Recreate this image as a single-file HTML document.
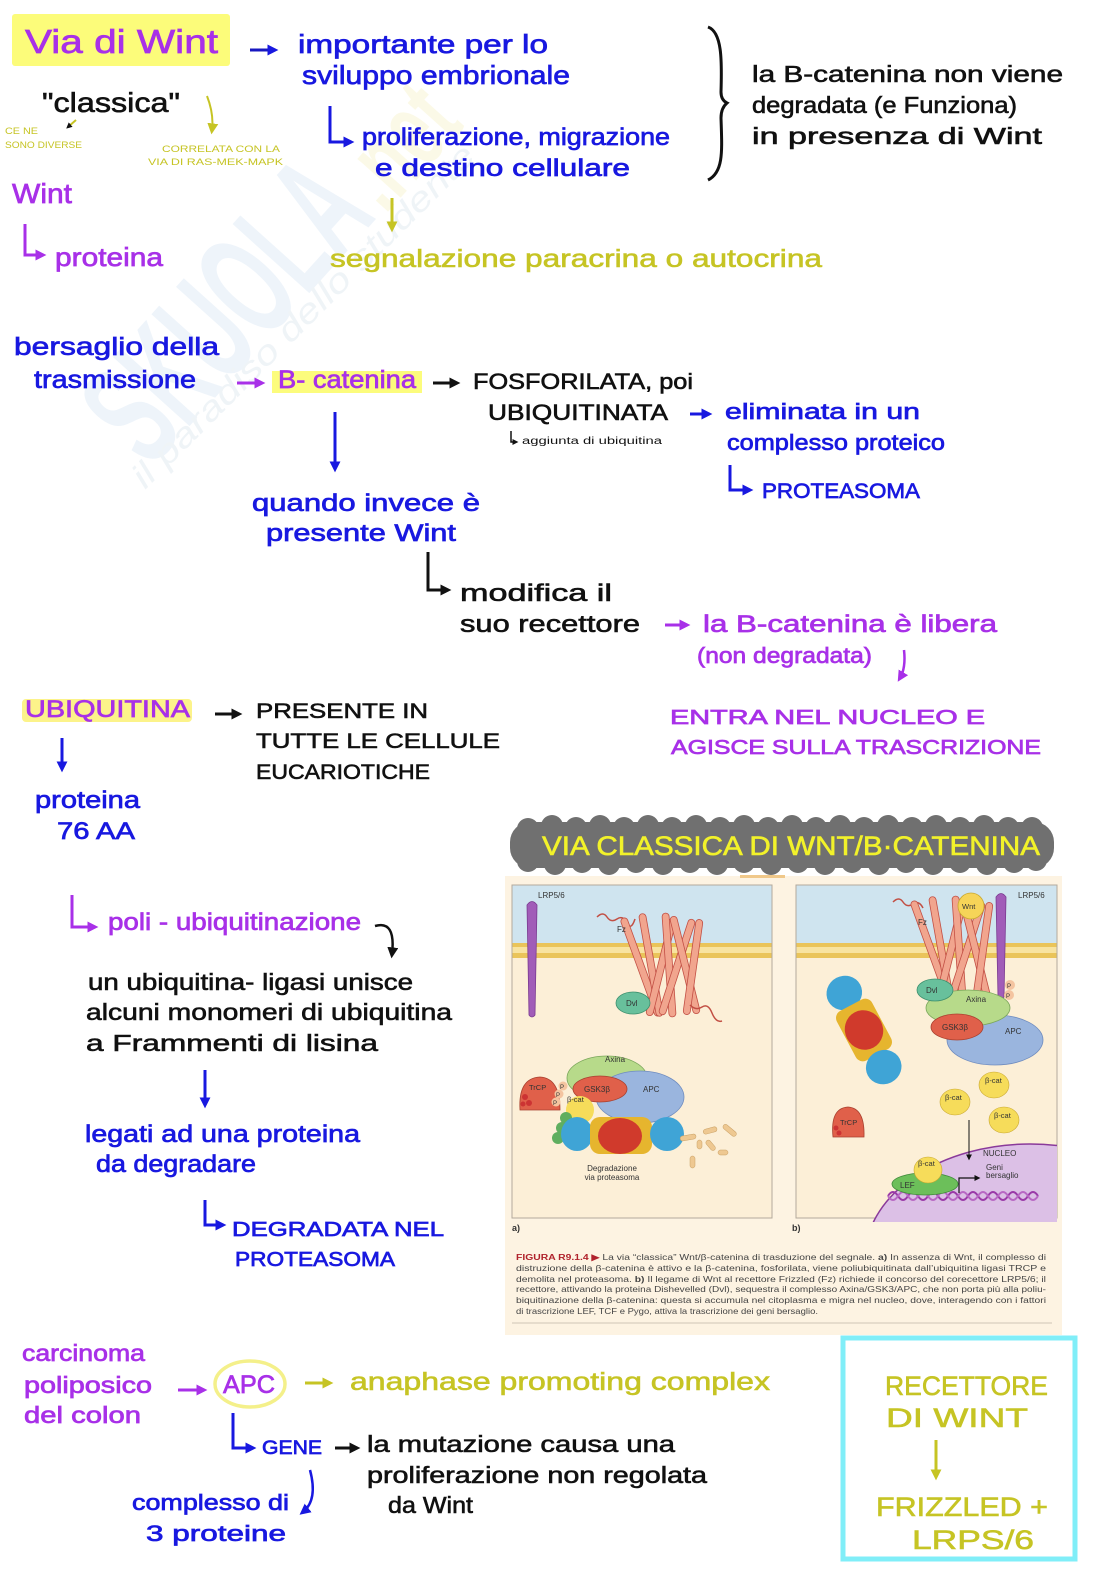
<!DOCTYPE html>
<html><head><meta charset="utf-8"><style>
html,body{margin:0;padding:0;background:#fff;}
svg{display:block;}
text{font-family:"Liberation Sans",sans-serif;}
.P{fill:#a830e8;stroke:#a830e8;stroke-width:0.7px;}
.B{fill:#1818e0;stroke:#1818e0;stroke-width:0.7px;}
.K{fill:#111;stroke:#111;stroke-width:0.6px;}
.Y{fill:#c6c424;stroke:#c6c424;stroke-width:0.6px;}
</style></head><body>
<svg width="1116" height="1578" viewBox="0 0 1116 1578" xmlns="http://www.w3.org/2000/svg">
<defs>
<marker id="aB" viewBox="0 0 10 10" refX="6" refY="5" markerWidth="11" markerHeight="11" markerUnits="userSpaceOnUse" orient="auto"><path d="M0,0 L10,5 L0,10 z" fill="#1818e0"/></marker>
<marker id="aP" viewBox="0 0 10 10" refX="6" refY="5" markerWidth="11" markerHeight="11" markerUnits="userSpaceOnUse" orient="auto"><path d="M0,0 L10,5 L0,10 z" fill="#a830e8"/></marker>
<marker id="aK" viewBox="0 0 10 10" refX="6" refY="5" markerWidth="11" markerHeight="11" markerUnits="userSpaceOnUse" orient="auto"><path d="M0,0 L10,5 L0,10 z" fill="#111"/></marker>
<marker id="aY" viewBox="0 0 10 10" refX="6" refY="5" markerWidth="11" markerHeight="11" markerUnits="userSpaceOnUse" orient="auto"><path d="M0,0 L10,5 L0,10 z" fill="#c6c424"/></marker>
<marker id="aS" viewBox="0 0 10 10" refX="6" refY="5" markerWidth="6" markerHeight="6" markerUnits="userSpaceOnUse" orient="auto"><path d="M0,0 L10,5 L0,10 z" fill="#111"/></marker>
<g id="fz" fill="#f1a58e" stroke="#c24f44" stroke-width="0.8">
 <rect x="-3.5" y="-52" width="7" height="104" rx="3.5" transform="translate(-24,2) rotate(-20)"/>
 <rect x="-3.5" y="-52" width="7" height="104" rx="3.5" transform="translate(-14,0) rotate(-10)"/>
 <rect x="-3.5" y="-50" width="7" height="100" rx="3.5" transform="translate(-4,2) rotate(14)"/>
 <rect x="-3.5" y="-52" width="7" height="104" rx="3.5" transform="translate(4,0) rotate(-4)"/>
 <rect x="-3.5" y="-50" width="7" height="100" rx="3.5" transform="translate(12,2) rotate(18)"/>
 <rect x="-3.5" y="-50" width="7" height="100" rx="3.5" transform="translate(20,0) rotate(-14)"/>
 <rect x="-3.5" y="-48" width="7" height="96" rx="3.5" transform="translate(28,2) rotate(8)"/>
</g>
<clipPath id="cpb"><rect x="796" y="885" width="261" height="337"/></clipPath>
</defs>

<!-- watermark -->
<g opacity="0.6">
<text x="0" y="0" font-size="150" font-weight="bold" fill="#e4eef8" textLength="340" lengthAdjust="spacingAndGlyphs" transform="translate(150,470) rotate(-48)">SKUOLA</text>
<text x="0" y="0" font-size="110" font-weight="bold" fill="#faf6d8" textLength="120" lengthAdjust="spacingAndGlyphs" transform="translate(385,215) rotate(-48)">.net</text>
<text x="0" y="0" font-size="34" font-style="italic" fill="#e6edf3" textLength="470" lengthAdjust="spacingAndGlyphs" transform="translate(145,490) rotate(-45)">il paradiso dello studente</text>
</g>

<!-- Title highlight -->
<rect x="12" y="14" width="218" height="52" rx="3" fill="#fcfc7a"/>
<text class="P" x="25" y="53" font-size="33" textLength="193" lengthAdjust="spacingAndGlyphs">Via  di  Wint</text>

<line x1="250" y1="50" x2="274" y2="50" stroke="#1818c0" stroke-width="3" marker-end="url(#aB)"/>
<text class="B" x="298" y="53" font-size="26" textLength="250" lengthAdjust="spacingAndGlyphs">importante per lo</text>
<text class="B" x="302" y="84" font-size="26" textLength="268" lengthAdjust="spacingAndGlyphs">sviluppo  embrionale</text>

<text class="K" x="42" y="112" font-size="28" textLength="138" lengthAdjust="spacingAndGlyphs">"classica"</text>
<line x1="76" y1="120" x2="68" y2="127" stroke="#c6c424" stroke-width="2" marker-end="url(#aS)"/>
<text x="5" y="134" font-size="9" fill="#c6c424" textLength="33" lengthAdjust="spacingAndGlyphs">CE NE</text>
<text x="5" y="148" font-size="9" fill="#c6c424" textLength="77" lengthAdjust="spacingAndGlyphs">SONO  DIVERSE</text>
<path d="M207,96 Q214,114 212,130" stroke="#c6c424" stroke-width="2" fill="none" marker-end="url(#aY)"/>
<text x="162" y="152" font-size="9.5" fill="#c6c424" textLength="118" lengthAdjust="spacingAndGlyphs">CORRELATA  CON  LA</text>
<text x="148" y="165" font-size="9.5" fill="#c6c424" textLength="135" lengthAdjust="spacingAndGlyphs">VIA  DI  RAS-MEK-MAPK</text>

<text class="P" x="12" y="203" font-size="28" textLength="60" lengthAdjust="spacingAndGlyphs">Wint</text>
<path d="M25,224 V255 H42" stroke="#a830e8" stroke-width="3" fill="none" marker-end="url(#aP)"/>
<text class="P" x="55" y="266" font-size="26" textLength="108" lengthAdjust="spacingAndGlyphs">proteina</text>

<path d="M330,106 V142 H350" stroke="#1818e0" stroke-width="3" fill="none" marker-end="url(#aB)"/>
<text class="B" x="362" y="145" font-size="24" textLength="308" lengthAdjust="spacingAndGlyphs">proliferazione, migrazione</text>
<text class="B" x="375" y="176" font-size="24" textLength="255" lengthAdjust="spacingAndGlyphs">e  destino  cellulare</text>
<line x1="392" y1="198" x2="392" y2="228" stroke="#c6c424" stroke-width="3" marker-end="url(#aY)"/>
<text class="Y" x="330" y="267" font-size="25" textLength="492" lengthAdjust="spacingAndGlyphs">segnalazione  paracrina  o  autocrina</text>

<path d="M708,27 C722,32 722,60 721,92 Q721,100 727,103 Q721,108 721,118 C722,150 724,172 708,180" stroke="#111" stroke-width="3" fill="none"/>
<text class="K" x="752" y="82" font-size="23" textLength="311" lengthAdjust="spacingAndGlyphs">la  B-catenina  non  viene</text>
<text class="K" x="752" y="113" font-size="23" textLength="265" lengthAdjust="spacingAndGlyphs">degradata (e Funziona)</text>
<text class="K" x="752" y="144" font-size="23" textLength="290" lengthAdjust="spacingAndGlyphs">in  presenza  di  Wint</text>

<text class="B" x="14" y="355" font-size="25" textLength="205" lengthAdjust="spacingAndGlyphs">bersaglio  della</text>
<text class="B" x="34" y="388" font-size="25" textLength="162" lengthAdjust="spacingAndGlyphs">trasmissione</text>
<line x1="237" y1="383" x2="261" y2="383" stroke="#a830e8" stroke-width="3" marker-end="url(#aP)"/>
<rect x="272" y="371" width="150" height="22" fill="#fcfc7c"/>
<text class="P" x="278" y="388" font-size="25" textLength="138" lengthAdjust="spacingAndGlyphs">B- catenina</text>
<line x1="433" y1="383" x2="456" y2="383" stroke="#111" stroke-width="3" marker-end="url(#aK)"/>
<text class="K" x="473" y="389" font-size="22" textLength="220" lengthAdjust="spacingAndGlyphs">FOSFORILATA, poi</text>
<text class="K" x="488" y="420" font-size="22" textLength="180" lengthAdjust="spacingAndGlyphs">UBIQUITINATA</text>
<path d="M511,431 V442 H516" stroke="#111" stroke-width="1.5" fill="none" marker-end="url(#aS)"/>
<text x="522" y="444" font-size="10" fill="#111" textLength="140" lengthAdjust="spacingAndGlyphs">aggiunta di ubiquitina</text>
<line x1="690" y1="414" x2="708" y2="414" stroke="#1818e0" stroke-width="3" marker-end="url(#aB)"/>
<text class="B" x="725" y="419" font-size="22" textLength="195" lengthAdjust="spacingAndGlyphs">eliminata  in  un</text>
<text class="B" x="727" y="450" font-size="22" textLength="218" lengthAdjust="spacingAndGlyphs">complesso  proteico</text>
<path d="M730,465 V490 H749" stroke="#1818e0" stroke-width="3" fill="none" marker-end="url(#aB)"/>
<text class="B" x="762" y="498" font-size="21" textLength="158" lengthAdjust="spacingAndGlyphs">PROTEASOMA</text>

<line x1="335" y1="412" x2="335" y2="468" stroke="#1818e0" stroke-width="3" marker-end="url(#aB)"/>
<text class="B" x="252" y="511" font-size="24" textLength="228" lengthAdjust="spacingAndGlyphs">quando  invece  è</text>
<text class="B" x="266" y="541" font-size="24" textLength="190" lengthAdjust="spacingAndGlyphs">presente  Wint</text>
<path d="M428,552 V590 H447" stroke="#111" stroke-width="3" fill="none" marker-end="url(#aK)"/>
<text class="K" x="460" y="601" font-size="24" textLength="152" lengthAdjust="spacingAndGlyphs">modifica  il</text>
<text class="K" x="460" y="632" font-size="24" textLength="180" lengthAdjust="spacingAndGlyphs">suo  recettore</text>
<line x1="665" y1="625" x2="686" y2="625" stroke="#a830e8" stroke-width="3" marker-end="url(#aP)"/>
<text class="P" x="703" y="632" font-size="24" textLength="294" lengthAdjust="spacingAndGlyphs">la B-catenina  è  libera</text>
<text class="P" x="697" y="663" font-size="22" textLength="175" lengthAdjust="spacingAndGlyphs">(non degradata)</text>
<path d="M904,650 Q906,668 900,678" stroke="#a830e8" stroke-width="2.5" fill="none" marker-end="url(#aP)"/>
<text class="P" x="670" y="724" font-size="20" textLength="315" lengthAdjust="spacingAndGlyphs">ENTRA NEL  NUCLEO   E</text>
<text class="P" x="671" y="754" font-size="20" textLength="370" lengthAdjust="spacingAndGlyphs">AGISCE  SULLA  TRASCRIZIONE</text>

<rect x="22" y="699" width="170" height="23" rx="4" fill="#fcf38a"/>
<text class="P" x="25" y="717" font-size="24" textLength="165" lengthAdjust="spacingAndGlyphs">UBIQUITINA</text>
<line x1="215" y1="714" x2="238" y2="714" stroke="#111" stroke-width="3" marker-end="url(#aK)"/>
<text class="K" x="256" y="718" font-size="21" textLength="172" lengthAdjust="spacingAndGlyphs">PRESENTE   IN</text>
<text class="K" x="256" y="748" font-size="21" textLength="244" lengthAdjust="spacingAndGlyphs">TUTTE  LE  CELLULE</text>
<text class="K" x="256" y="779" font-size="21" textLength="174" lengthAdjust="spacingAndGlyphs">EUCARIOTICHE</text>
<line x1="62" y1="738" x2="62" y2="768" stroke="#1818e0" stroke-width="3" marker-end="url(#aB)"/>
<text class="B" x="35" y="808" font-size="24" textLength="105" lengthAdjust="spacingAndGlyphs">proteina</text>
<text class="B" x="57" y="839" font-size="24" textLength="78" lengthAdjust="spacingAndGlyphs">76  AA</text>

<path d="M72,895 V927 H94" stroke="#a830e8" stroke-width="3" fill="none" marker-end="url(#aP)"/>
<text class="P" x="108" y="930" font-size="24" textLength="253" lengthAdjust="spacingAndGlyphs">poli - ubiquitinazione</text>
<path d="M375,926 Q396,920 392,954" stroke="#111" stroke-width="2.5" fill="none" marker-end="url(#aK)"/>
<text class="K" x="88" y="990" font-size="23" textLength="325" lengthAdjust="spacingAndGlyphs">un  ubiquitina- ligasi  unisce</text>
<text class="K" x="86" y="1020" font-size="23" textLength="366" lengthAdjust="spacingAndGlyphs">alcuni  monomeri  di  ubiquitina</text>
<text class="K" x="86" y="1051" font-size="23" textLength="292" lengthAdjust="spacingAndGlyphs">a  Frammenti  di  lisina</text>
<line x1="205" y1="1070" x2="205" y2="1104" stroke="#1818e0" stroke-width="3" marker-end="url(#aB)"/>
<text class="B" x="85" y="1142" font-size="24" textLength="275" lengthAdjust="spacingAndGlyphs">legati ad una  proteina</text>
<text class="B" x="96" y="1172" font-size="24" textLength="160" lengthAdjust="spacingAndGlyphs">da  degradare</text>
<path d="M205,1200 V1225 H222" stroke="#1818e0" stroke-width="3" fill="none" marker-end="url(#aB)"/>
<text class="B" x="232" y="1236" font-size="20" textLength="212" lengthAdjust="spacingAndGlyphs">DEGRADATA  NEL</text>
<text class="B" x="235" y="1266" font-size="20" textLength="160" lengthAdjust="spacingAndGlyphs">PROTEASOMA</text>

<!-- Cloud title -->
<g fill="#707070">
<rect x="510" y="822" width="544" height="46" rx="20"/>
<circle cx="528" cy="829" r="11"/><circle cx="552" cy="826" r="11"/><circle cx="576" cy="828" r="11"/><circle cx="600" cy="826" r="11"/><circle cx="624" cy="828" r="11"/><circle cx="648" cy="826" r="11"/><circle cx="672" cy="828" r="11"/><circle cx="696" cy="826" r="11"/><circle cx="720" cy="828" r="11"/><circle cx="744" cy="826" r="11"/><circle cx="768" cy="828" r="11"/><circle cx="792" cy="826" r="11"/><circle cx="816" cy="828" r="11"/><circle cx="840" cy="826" r="11"/><circle cx="864" cy="828" r="11"/><circle cx="888" cy="826" r="11"/><circle cx="912" cy="828" r="11"/><circle cx="936" cy="826" r="11"/><circle cx="960" cy="828" r="11"/><circle cx="984" cy="826" r="11"/><circle cx="1008" cy="828" r="11"/><circle cx="1032" cy="828" r="11"/>
<circle cx="528" cy="861" r="11"/><circle cx="555" cy="864" r="11"/><circle cx="582" cy="862" r="11"/><circle cx="609" cy="864" r="11"/><circle cx="636" cy="862" r="11"/><circle cx="663" cy="864" r="11"/><circle cx="690" cy="862" r="11"/><circle cx="717" cy="864" r="11"/><circle cx="744" cy="862" r="11"/><circle cx="771" cy="864" r="11"/><circle cx="798" cy="862" r="11"/><circle cx="825" cy="864" r="11"/><circle cx="852" cy="862" r="11"/><circle cx="879" cy="864" r="11"/><circle cx="906" cy="862" r="11"/><circle cx="933" cy="864" r="11"/><circle cx="960" cy="862" r="11"/><circle cx="987" cy="864" r="11"/><circle cx="1014" cy="862" r="11"/><circle cx="1036" cy="860" r="11"/>
</g>
<text x="542" y="855" font-size="27" fill="#f2f22a" stroke="#f2f22a" stroke-width="0.6" textLength="498" lengthAdjust="spacingAndGlyphs">VIA  CLASSICA  DI  WNT/B·CATENINA</text>

<!-- Figure -->
<rect x="505" y="876" width="557" height="459" fill="#fdf3e2"/>
<rect x="740" y="875" width="45" height="3" fill="#f0c88a"/>
<!-- panel a -->
<rect x="512" y="885" width="260" height="333" fill="#fcefd7" stroke="#b3aa9c" stroke-width="1"/>
<rect x="512.5" y="885.5" width="259" height="58" fill="#cfe4ef"/>
<rect x="512.5" y="943" width="259" height="15" fill="#eac45a"/>
<rect x="512.5" y="947" width="259" height="6" fill="#f8e3a0"/>
<path d="M527,905 Q532,898 537,905 L535,1015 Q532,1019 529,1015 Z" fill="#a15cb8" stroke="#7a3a90" stroke-width="0.8"/>
<text x="538" y="898" font-size="8" fill="#333">LRP5/6</text>
<path d="M597,917 q6,-6 10,0 t10,2 t10,4 t8,-4" stroke="#c24f44" stroke-width="1.5" fill="none"/>
<use href="#fz" transform="translate(665,965)"/>
<path d="M690,1005 q6,6 12,2 t10,6 t10,8" stroke="#c24f44" stroke-width="1.5" fill="none"/>
<text x="617" y="932" font-size="8" fill="#333">Fz</text>
<ellipse cx="633" cy="1003" rx="17" ry="11" fill="#68c09c" stroke="#3d8f6d" stroke-width="0.8"/>
<text x="626" y="1006" font-size="8" fill="#333">Dvl</text>
<!-- complex a -->
<ellipse cx="607" cy="1078" rx="40" ry="22" fill="#b7da8a" stroke="#7aa65a" stroke-width="0.8"/>
<text x="605" y="1062" font-size="8" fill="#333">Axina</text>
<ellipse cx="640" cy="1097" rx="44" ry="26" fill="#9ab5de" stroke="#6f8cbf" stroke-width="0.8"/>
<text x="643" y="1092" font-size="8" fill="#333">APC</text>
<ellipse cx="600" cy="1089" rx="27" ry="13" fill="#e0604a" stroke="#a8402f" stroke-width="0.8"/>
<text x="584" y="1092" font-size="8" fill="#333">GSK3β</text>
<path d="M520,1110 Q518,1078 540,1077 Q560,1078 560,1110 Z" fill="#e0604a" stroke="#a8402f" stroke-width="0.8"/>
<text x="529" y="1090" font-size="7.5" fill="#333">TrCP</text>
<circle cx="525" cy="1097" r="3" fill="#c33"/><circle cx="529" cy="1103" r="3" fill="#c33"/><circle cx="523" cy="1104" r="2.5" fill="#c33"/>
<ellipse cx="580" cy="1110" rx="14" ry="14" fill="#f6dc5a"/>
<text x="567" y="1102" font-size="7.5" fill="#333">β-cat</text>
<circle cx="563" cy="1086" r="4.5" fill="#f4c4a0"/><circle cx="559" cy="1094" r="4.5" fill="#f4c4a0"/><circle cx="556" cy="1102" r="4.5" fill="#f4c4a0"/>
<text x="560" y="1089" font-size="6" fill="#333">P</text><text x="556" y="1097" font-size="6" fill="#333">P</text><text x="553" y="1105" font-size="6" fill="#333">P</text>
<circle cx="566" cy="1118" r="6" fill="#5fae5f"/><circle cx="562" cy="1128" r="6" fill="#5fae5f"/><circle cx="558" cy="1138" r="6" fill="#5fae5f"/>
<ellipse cx="577" cy="1134" rx="16" ry="17" fill="#3fa4d6"/>
<rect x="590" y="1117" width="62" height="37" rx="10" fill="#e6b52e"/>
<ellipse cx="620" cy="1136" rx="22" ry="18" fill="#d03a2c"/>
<ellipse cx="667" cy="1134" rx="17" ry="17" fill="#3fa4d6"/>
<g fill="#eec891" stroke="#c9a065" stroke-width="0.5">
<rect x="680" y="1135" width="16" height="5" rx="2.5" transform="rotate(-10 688 1137)"/>
<rect x="703" y="1128" width="14" height="5" rx="2.5" transform="rotate(-15 710 1130)"/>
<rect x="722" y="1128" width="16" height="5" rx="2.5" transform="rotate(40 730 1130)"/>
<rect x="705" y="1143" width="12" height="5" rx="2.5" transform="rotate(50 711 1145)"/>
<rect x="718" y="1150" width="10" height="5" rx="2.5"/>
<rect x="690" y="1156" width="5" height="12" rx="2.5"/>
<rect x="697" y="1140" width="5" height="9" rx="2.5"/>
</g>
<text x="612" y="1171" font-size="8" fill="#333" text-anchor="middle">Degradazione</text>
<text x="612" y="1180" font-size="8" fill="#333" text-anchor="middle">via proteasoma</text>
<text x="512" y="1231" font-size="9" font-weight="bold" fill="#333">a)</text>

<!-- panel b -->
<rect x="796" y="885" width="261" height="333" fill="#fcefd7" stroke="#b3aa9c" stroke-width="1"/>
<rect x="796.5" y="885.5" width="260" height="58" fill="#cfe4ef"/>
<rect x="796.5" y="943" width="260" height="15" fill="#eac45a"/>
<rect x="796.5" y="947" width="260" height="6" fill="#f8e3a0"/>
<g clip-path="url(#cpb)">
<ellipse cx="1030" cy="1258" rx="165" ry="114" fill="#dcc0e6" stroke="#8a3a9a" stroke-width="1.5"/>
</g>
<path d="M888,1196 q5,-8 10,0 t10,0 t10,0 t10,0 t10,0 t10,0 t10,0 t10,0 t10,0 t10,0 t10,0 t10,0 t10,0 t10,0 t10,0" stroke="#9a3aa8" stroke-width="2" fill="none"/>
<path d="M888,1196 q5,8 10,0 t10,0 t10,0 t10,0 t10,0 t10,0 t10,0 t10,0 t10,0 t10,0 t10,0 t10,0 t10,0 t10,0 t10,0" stroke="#b868c4" stroke-width="2" fill="none"/>
<ellipse cx="925" cy="1184" rx="33" ry="11" fill="#6cbf5a" stroke="#3f8a3a" stroke-width="0.8"/>
<text x="900" y="1188" font-size="8" fill="#333">LEF</text>
<ellipse cx="928" cy="1170" rx="14" ry="13" fill="#f6dc5a" stroke="#c9a830" stroke-width="0.6"/>
<text x="918" y="1166" font-size="7.5" fill="#333">β-cat</text>
<path d="M959,1193 V1178 H978" stroke="#111" stroke-width="1.2" fill="none" marker-end="url(#aS)"/>
<text x="986" y="1170" font-size="8" fill="#333">Geni</text>
<text x="986" y="1178" font-size="8" fill="#333">bersaglio</text>
<text x="983" y="1156" font-size="8" fill="#333">NUCLEO</text>
<line x1="969" y1="1120" x2="969" y2="1158" stroke="#111" stroke-width="1" marker-end="url(#aS)"/>
<path d="M996,897 Q1001,890 1006,897 L1004,997 Q1001,1001 998,997 Z" fill="#a15cb8" stroke="#7a3a90" stroke-width="0.8"/>
<text x="1018" y="898" font-size="8" fill="#333">LRP5/6</text>
<path d="M893,902 q6,-6 10,0 t10,2 t10,4" stroke="#c24f44" stroke-width="1.5" fill="none"/>
<use href="#fz" transform="translate(955,948)"/>
<circle cx="971" cy="906" r="13" fill="#f6d458" stroke="#c9a830" stroke-width="0.8"/>
<text x="962" y="909" font-size="7.5" fill="#333">Wnt</text>
<text x="918" y="925" font-size="8" fill="#333">Fz</text>
<circle cx="1010" cy="985" r="5" fill="#f4c4a0"/><circle cx="1009" cy="995" r="5" fill="#f4c4a0"/>
<text x="1007" y="988" font-size="6" fill="#333">P</text><text x="1006" y="998" font-size="6" fill="#333">P</text>
<ellipse cx="995" cy="1040" rx="48" ry="25" fill="#9ab5de" stroke="#6f8cbf" stroke-width="0.8"/>
<text x="1005" y="1034" font-size="8" fill="#333">APC</text>
<ellipse cx="968" cy="1008" rx="42" ry="18" fill="#b7da8a" stroke="#7aa65a" stroke-width="0.8"/>
<text x="966" y="1002" font-size="8" fill="#333">Axina</text>
<ellipse cx="935" cy="990" rx="18" ry="11" fill="#68c09c" stroke="#3d8f6d" stroke-width="0.8"/>
<text x="926" y="993" font-size="8" fill="#333">Dvl</text>
<ellipse cx="957" cy="1027" rx="26" ry="13" fill="#e0604a" stroke="#a8402f" stroke-width="0.8"/>
<text x="942" y="1030" font-size="8" fill="#333">GSK3β</text>
<g transform="translate(864,1030) rotate(62)">
<ellipse cx="-42" cy="0" rx="17" ry="18" fill="#3fa4d6"/>
<rect x="-28" y="-20" width="56" height="40" rx="8" fill="#e6b52e"/>
<ellipse cx="0" cy="0" rx="20" ry="19" fill="#d03a2c"/>
<ellipse cx="42" cy="0" rx="17" ry="18" fill="#3fa4d6"/>
</g>
<path d="M833,1137 Q830,1108 848,1107 Q865,1108 864,1137 Z" fill="#e0604a" stroke="#a8402f" stroke-width="0.8"/>
<text x="840" y="1125" font-size="7.5" fill="#333">TrCP</text>
<circle cx="836" cy="1128" r="2.5" fill="#c33"/><circle cx="839" cy="1133" r="2.5" fill="#c33"/>
<g fill="#f6dc5a" stroke="#c9a830" stroke-width="0.6">
<ellipse cx="994" cy="1085" rx="15" ry="13"/>
<ellipse cx="955" cy="1102" rx="15" ry="13"/>
<ellipse cx="1004" cy="1120" rx="15" ry="13"/>
</g>
<text x="985" y="1083" font-size="7.5" fill="#333">β-cat</text>
<text x="945" y="1100" font-size="7.5" fill="#333">β-cat</text>
<text x="994" y="1118" font-size="7.5" fill="#333">β-cat</text>
<text x="792" y="1231" font-size="9" font-weight="bold" fill="#333">b)</text>

<!-- caption -->
<g font-size="8.6" fill="#444">
<text x="516" y="1260" textLength="530" lengthAdjust="spacingAndGlyphs"><tspan fill="#b0222c" font-weight="bold">FIGURA R9.1.4 ▶</tspan> La via “classica” Wnt/β-catenina di trasduzione del segnale. <tspan font-weight="bold">a)</tspan> In assenza di Wnt, il complesso di</text>
<text x="516" y="1271" textLength="530" lengthAdjust="spacingAndGlyphs">distruzione della β-catenina è attivo e la β-catenina, fosforilata, viene poliubiquitinata dall’ubiquitina ligasi TRCP e</text>
<text x="516" y="1282" textLength="530" lengthAdjust="spacingAndGlyphs">demolita nel proteasoma. <tspan font-weight="bold">b)</tspan> Il legame di Wnt al recettore Frizzled (Fz) richiede il concorso del corecettore LRP5/6; il</text>
<text x="516" y="1292" textLength="530" lengthAdjust="spacingAndGlyphs">recettore, attivando la proteina Dishevelled (Dvl), sequestra il complesso Axina/GSK3/APC, che non porta più alla poliu-</text>
<text x="516" y="1303" textLength="530" lengthAdjust="spacingAndGlyphs">biquitinazione della β-catenina: questa si accumula nel citoplasma e migra nel nucleo, dove, interagendo con i fattori</text>
<text x="516" y="1314" textLength="302" lengthAdjust="spacingAndGlyphs">di trascrizione LEF, TCF e Pygo, attiva la trascrizione dei geni bersaglio.</text>
</g>
<line x1="512" y1="1323" x2="1052" y2="1323" stroke="#d8cfc0" stroke-width="1.2"/>

<!-- bottom section -->
<text class="P" x="22" y="1361" font-size="23" textLength="123" lengthAdjust="spacingAndGlyphs">carcinoma</text>
<text class="P" x="24" y="1393" font-size="23" textLength="128" lengthAdjust="spacingAndGlyphs">poliposico</text>
<text class="P" x="24" y="1423" font-size="23" textLength="117" lengthAdjust="spacingAndGlyphs">del  colon</text>
<line x1="178" y1="1390" x2="203" y2="1390" stroke="#a830e8" stroke-width="3" marker-end="url(#aP)"/>
<ellipse cx="250" cy="1384" rx="35" ry="23" fill="none" stroke="#f4f08a" stroke-width="3.5"/>
<text class="P" x="223" y="1393" font-size="25" textLength="52" lengthAdjust="spacingAndGlyphs">APC</text>
<line x1="305" y1="1383" x2="329" y2="1383" stroke="#c6c424" stroke-width="3" marker-end="url(#aY)"/>
<text class="Y" x="350" y="1390" font-size="25" textLength="420" lengthAdjust="spacingAndGlyphs">anaphase  promoting  complex</text>
<path d="M233,1413 V1448 H252" stroke="#1818e0" stroke-width="3" fill="none" marker-end="url(#aB)"/>
<text class="B" x="262" y="1454" font-size="19" textLength="60" lengthAdjust="spacingAndGlyphs">GENE</text>
<line x1="335" y1="1448" x2="356" y2="1448" stroke="#111" stroke-width="3" marker-end="url(#aK)"/>
<text class="K" x="367" y="1452" font-size="23" textLength="308" lengthAdjust="spacingAndGlyphs">la  mutazione  causa  una</text>
<text class="K" x="367" y="1483" font-size="23" textLength="340" lengthAdjust="spacingAndGlyphs">proliferazione  non  regolata</text>
<text class="K" x="388" y="1513" font-size="23" textLength="85" lengthAdjust="spacingAndGlyphs">da  Wint</text>
<path d="M310,1470 Q318,1500 303,1512" stroke="#1818e0" stroke-width="2.5" fill="none" marker-end="url(#aB)"/>
<text class="B" x="132" y="1510" font-size="22" textLength="157" lengthAdjust="spacingAndGlyphs">complesso  di</text>
<text class="B" x="146" y="1541" font-size="22" textLength="140" lengthAdjust="spacingAndGlyphs">3  proteine</text>

<rect x="843" y="1338" width="232" height="221" fill="none" stroke="#80eef8" stroke-width="5"/>
<text class="Y" x="885" y="1395" font-size="27" textLength="163" lengthAdjust="spacingAndGlyphs">RECETTORE</text>
<text class="Y" x="886" y="1427" font-size="27" textLength="142" lengthAdjust="spacingAndGlyphs">DI  WINT</text>
<line x1="936" y1="1440" x2="936" y2="1476" stroke="#c6c424" stroke-width="3" marker-end="url(#aY)"/>
<text class="Y" x="876" y="1516" font-size="27" textLength="172" lengthAdjust="spacingAndGlyphs">FRIZZLED  +</text>
<text class="Y" x="912" y="1549" font-size="27" textLength="122" lengthAdjust="spacingAndGlyphs">LRPS/6</text>
</svg>
</body></html>
